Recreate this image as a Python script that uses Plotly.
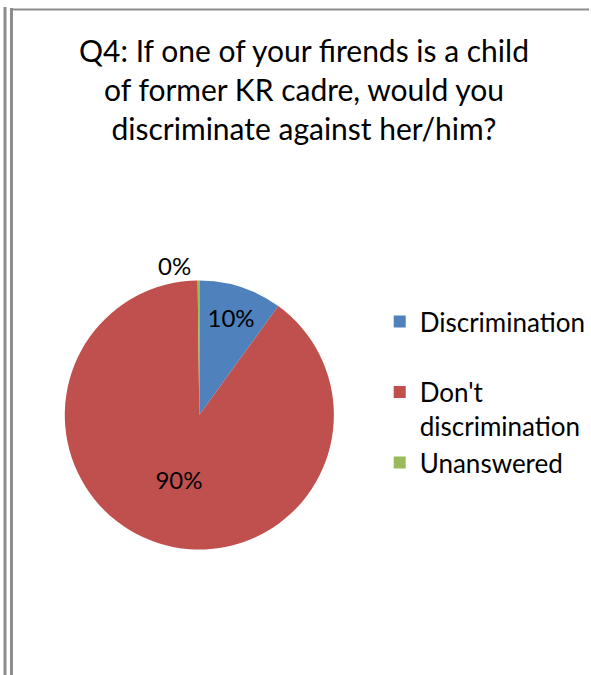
import plotly.graph_objects as go

categories = ["Discrimination<br> ", "Don't<br>discrimination", "Unanswered"]
values = [10, 90, 0.2]
colors = ["#4F81BD", "#C0504D", "#9BBB59"]
text_positions = ["inside", "inside", "outside"]
title_text = "Q4: If one of your firends is a child<br>of former KR cadre, would you<br>discriminate against her/him?"

W, H = 591, 675
FONT = "Lato"

fig = go.Figure()
fig.add_trace(go.Pie(
    labels=categories,
    values=values,
    sort=False,
    direction="clockwise",
    rotation=0,
    marker=dict(colors=colors, line=dict(width=0)),
    texttemplate="%{percent:.0%}",
    textposition=text_positions,
    textfont=dict(size=24, color="#000000", family=FONT),
    insidetextorientation="horizontal",
    domain=dict(x=[65 / W, 335 / W], y=[1 - 550 / H, 1 - 280 / H]),
    showlegend=True,
))

shapes = [
    dict(type="line", xref="paper", yref="paper", x0=5 / W, x1=5 / W, y0=0, y1=1 - 7 / H,
         line=dict(color="#8c8c8c", width=3)),
    dict(type="line", xref="paper", yref="paper", x0=11.5 / W, x1=11.5 / W, y0=0, y1=1 - 8 / H,
         line=dict(color="#8c8c8c", width=3)),
    dict(type="line", xref="paper", yref="paper", x0=11.5 / W, x1=1, y0=1 - 9.5 / H, y1=1 - 9.5 / H,
         line=dict(color="#8c8c8c", width=2)),
]

fig.update_layout(
    width=W, height=H,
    margin=dict(l=0, r=0, t=0, b=0),
    paper_bgcolor="white",
    plot_bgcolor="white",
    font=dict(family=FONT, color="#000000"),
    title=dict(
        text=title_text,
        x=304 / W, xanchor="center",
        y=1 - 62 / H, yanchor="top",
        font=dict(size=30, family=FONT, color="#000000"),
    ),
    legend=dict(
        x=381 / W, xanchor="left",
        y=1 - 298 / H, yanchor="top",
        font=dict(size=26, family=FONT, color="#000000"),
        valign="top",
        tracegroupgap=0,
        itemwidth=30,
    ),
    shapes=shapes,
)

fig.write_html("out.html", config={"displayModeBar": False},
               post_script="document.body.style.margin='0';")
